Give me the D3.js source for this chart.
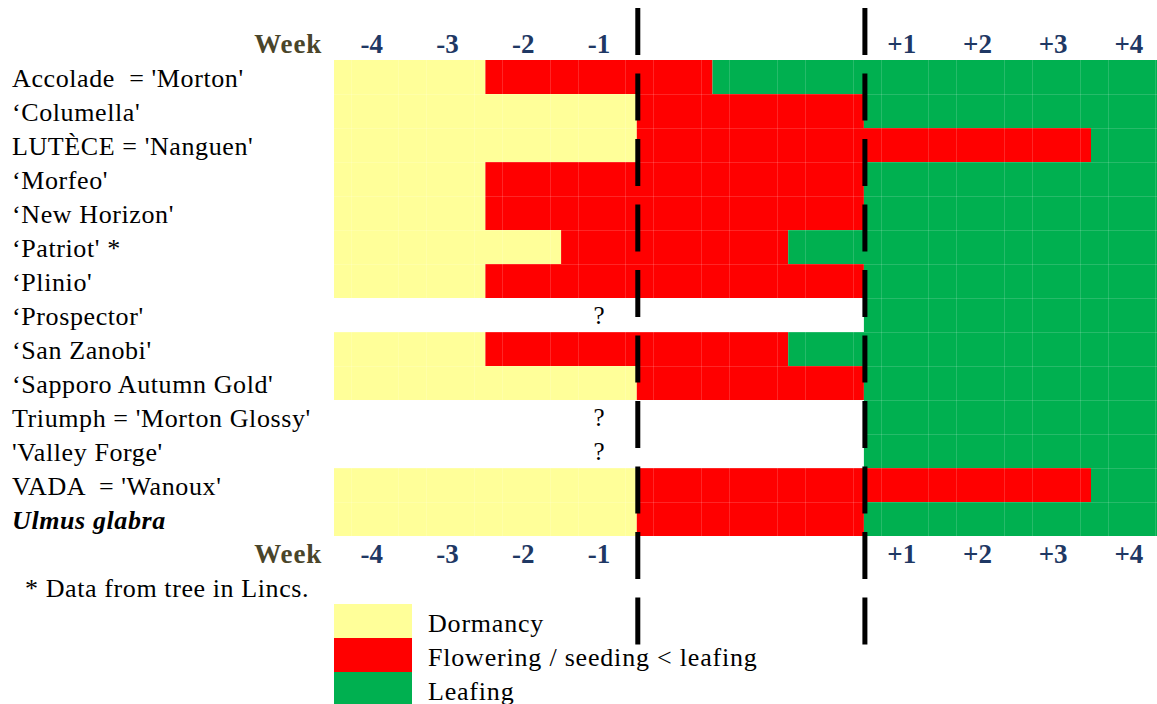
<!DOCTYPE html>
<html>
<head>
<meta charset="utf-8">
<script src="https://cdn.jsdelivr.net/npm/d3@7"></script>
<style>
  body { margin: 0; background: #fff; }
  svg text { font-family: "Liberation Serif", "Times New Roman", serif; white-space: pre; }
</style>
</head>
<body>
<div id="chart"></div>
<script>
// cultivars, top to bottom
const cultivars = [
    "Accolade  = 'Morton'",
    "\u2018Columella'",
    "LUT\u00C8CE = 'Nanguen'",
    "\u2018Morfeo'",
    "\u2018New Horizon'",
    "\u2018Patriot' *",
    "\u2018Plinio'",
    "\u2018Prospector'",
    "\u2018San Zanobi'",
    "\u2018Sapporo Autumn Gold'",
    "Triumph = 'Morton Glossy'",
    "'Valley Forge'",
    "VADA  = 'Wanoux'",
    "Ulmus glabra"
];

// week columns (three unlabelled columns between the two dashed lines)
const columns = ["-4", "-3", "-2", "-1", "a", "b", "c", "+1", "+2", "+3", "+4"];
const weekTicks = ["-4", "-3", "-2", "-1", "+1", "+2", "+3", "+4"];

// column index where dormancy ends (null = unknown) and where leafing starts
const dormancyEnd = [2, 4, 4, 2, 2, 3, 2, null, 2, 4, null, null, 4, 4];
const leafingStart = [5, 7, 10, 7, 7, 6, 7, 7, 6, 7, 7, 7, 10, 7];

const stages = ["Dormancy", "Flowering / seeding < leafing", "Leafing"];
const stageColors = ["#ffff99", "#ff0000", "#00b050"];

const width = 1157, height = 704;
const colW = 75.7;

const svg = d3.select("#chart")
    .append("svg")
    .attr("width", width)
    .attr("height", height);

const x = d3.scaleLinear()
    .domain([0, columns.length])
    .range([334, 334 + columns.length * colW]);

const y = d3.scaleBand()
    .domain(cultivars)
    .range([60, 536]);

const color = d3.scaleOrdinal()
    .domain(stages)
    .range(stageColors);

// build segments from the two arrays
const segments = [];
cultivars.forEach((c, i) => {
    if (dormancyEnd[i] !== null) {
        segments.push({ row: c, start: 0, end: dormancyEnd[i], stage: stages[0] });
        segments.push({ row: c, start: dormancyEnd[i], end: leafingStart[i], stage: stages[1] });
    }
    segments.push({ row: c, start: leafingStart[i], end: columns.length, stage: stages[2] });
});

svg.append("g")
    .selectAll("rect")
    .data(segments)
    .join("rect")
    .attr("x", d => x(d.start))
    .attr("y", d => y(d.row))
    .attr("width", d => x(d.end) - x(d.start))
    .attr("height", y.bandwidth())
    .attr("fill", d => color(d.stage));

// faint sheet gridlines
const grid = svg.append("g")
    .attr("stroke", "#fff")
    .attr("stroke-opacity", 0.15)
    .attr("stroke-width", 1);
grid.selectAll("line.h")
    .data(cultivars.slice(1))
    .join("line")
    .attr("x1", x(0)).attr("x2", width)
    .attr("y1", d => Math.round(y(d)) + 0.5)
    .attr("y2", d => Math.round(y(d)) + 0.5);
const vOffsets = d3.range(columns.length).flatMap(i => [i + 0.22, i + 0.85]);
grid.selectAll("line.v")
    .data(vOffsets)
    .join("line")
    .attr("x1", d => Math.round(x(d)) + 0.5)
    .attr("x2", d => Math.round(x(d)) + 0.5)
    .attr("y1", y.range()[0])
    .attr("y2", y.range()[1]);

// "?" for unknown rows
svg.append("g")
    .selectAll("text")
    .data(cultivars.filter((c, i) => dormancyEnd[i] === null))
    .join("text")
    .attr("x", x(3.5))
    .attr("y", d => y(d) + y.bandwidth() / 2 + 9)
    .attr("text-anchor", "middle")
    .attr("font-size", 25)
    .text("?");

// row labels
svg.append("g")
    .selectAll("text")
    .data(cultivars)
    .join("text")
    .attr("x", 12)
    .attr("y", d => y(d) + y.bandwidth() / 2 + 10)
    .attr("font-size", 26)
    .attr("letter-spacing", 0.6)
    .attr("font-weight", d => d === "Ulmus glabra" ? "bold" : null)
    .attr("font-style", d => d === "Ulmus glabra" ? "italic" : null)
    .text(d => d);

// week header rows, top and bottom
[53, 563].forEach(by => {
    svg.append("text")
        .attr("x", 322)
        .attr("y", by)
        .attr("text-anchor", "end")
        .attr("font-size", 27)
        .attr("letter-spacing", 0.8)
        .attr("font-weight", "bold")
        .attr("fill", "#4a452a")
        .text("Week");
    svg.append("g")
        .selectAll("text")
        .data(weekTicks)
        .join("text")
        .attr("x", d => x(columns.indexOf(d) + 0.5))
        .attr("y", by)
        .attr("text-anchor", "middle")
        .attr("font-size", 27)
        .attr("font-weight", "bold")
        .attr("fill", "#1f3864")
        .text(d => d);
});

// dashed markers at flowering start and leafing start
svg.append("g")
    .selectAll("line")
    .data([4, 7])
    .join("line")
    .attr("x1", d => x(d) + 1)
    .attr("x2", d => x(d) + 1)
    .attr("y1", 8)
    .attr("y2", 645)
    .attr("stroke", "#000")
    .attr("stroke-width", 5)
    .attr("stroke-dasharray", "47,18.5");

// footnote
svg.append("text")
    .attr("x", 25)
    .attr("y", 597)
    .attr("font-size", 26)
    .attr("letter-spacing", 0.6)
    .text("* Data from tree in Lincs.");

// legend
const legend = svg.append("g")
    .selectAll("g")
    .data(stages)
    .join("g")
    .attr("transform", (d, i) => `translate(334, ${604 + i * 34})`);
legend.append("rect")
    .attr("width", 78)
    .attr("height", 34)
    .attr("fill", d => color(d));
legend.append("text")
    .attr("x", 94)
    .attr("y", 28)
    .attr("font-size", 26)
    .attr("letter-spacing", 0.8)
    .text(d => d);
</script>
</body>
</html>
